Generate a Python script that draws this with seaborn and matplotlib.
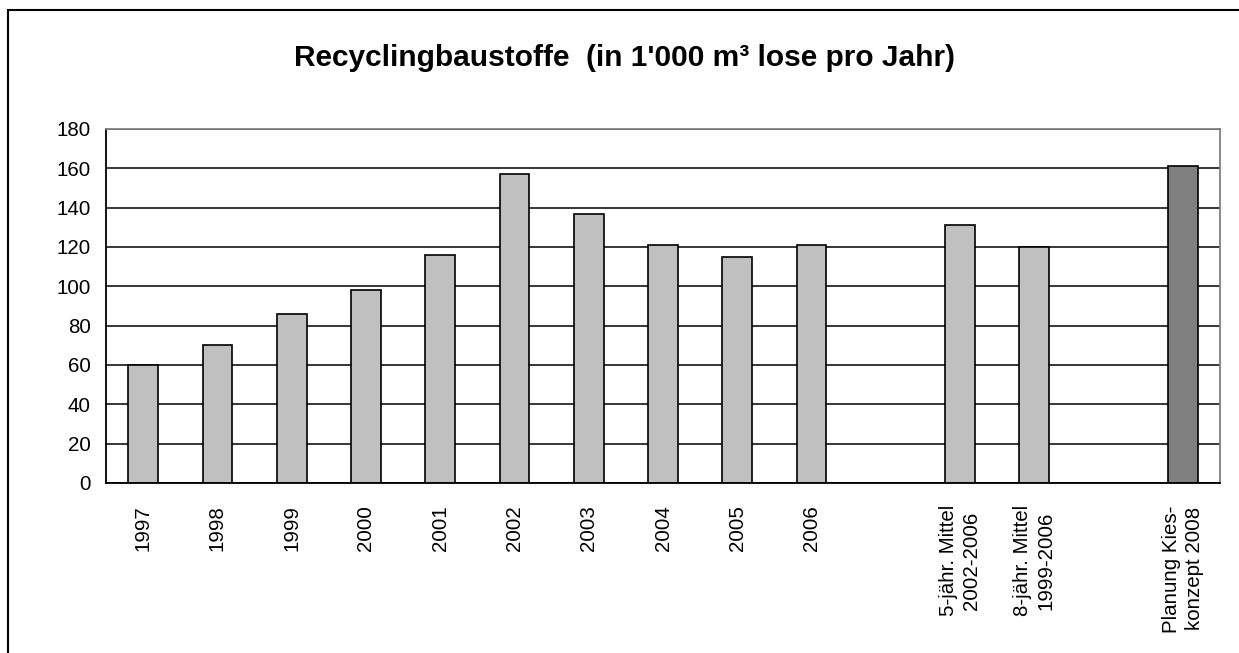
import numpy as np
import pandas as pd
import seaborn as sns
import matplotlib.pyplot as plt
from matplotlib.patches import Rectangle
from matplotlib.ticker import FixedLocator

# Kategorien (leere Plätze als Abstand wie im Original)
categories = ["1997", "1998", "1999", "2000", "2001", "2002", "2003", "2004", "2005", "2006",
              " ", "5-jähr. Mittel\n2002-2006", "8-jähr. Mittel\n1999-2006", "  ",
              "Planung Kies-\nkonzept 2008"]
labels = ["1997", "1998", "1999", "2000", "2001", "2002", "2003", "2004", "2005", "2006",
          "5-jähr. Mittel\n2002-2006", "8-jähr. Mittel\n1999-2006", "Planung Kies-\nkonzept 2008"]
values = [60, 70, 86, 98, 116, 157, 137, 121, 115, 121, 131, 120, 161]
colors = ["#C0C0C0"] * 12 + ["#808080"]

df = pd.DataFrame({"kat": labels, "wert": values})
palette = dict(zip(labels, colors))

sns.set_theme(style="white")
plt.rcParams['font.family'] = ['Liberation Sans', 'DejaVu Sans']

fig = plt.figure(figsize=(12.39, 6.53), dpi=100)
ax = fig.add_axes([106 / 1239, 1 - 483 / 653, (1220 - 106) / 1239, (483 - 129) / 653])

sns.barplot(data=df, x="kat", y="wert", hue="kat", order=categories, palette=palette,
            width=0.4, edgecolor="black", linewidth=1.2, saturation=1, legend=False, ax=ax)

ax.set_xlim(-0.5, len(categories) - 0.5)
ax.set_ylim(0, 180)
ax.set_yticks(np.arange(0, 181, 20))
ax.yaxis.grid(True, color="black", linewidth=1.1)
ax.set_axisbelow(True)
ax.set_xlabel("")
ax.set_ylabel("")

# Tick-Striche zwischen den Kategorien
ax.xaxis.set_minor_locator(FixedLocator(np.arange(-0.5, len(categories), 1.0)))
ax.tick_params(axis="x", which="major", length=0, pad=16)
ax.tick_params(axis="x", which="minor", length=5, width=1.1, color="black", direction="out")
ax.tick_params(axis="y", length=7, width=1.1, color="black", direction="out", pad=4)
ax.tick_params(axis="both", labelsize=14.8, labelcolor="black")
plt.setp(ax.get_xticklabels(), rotation=90, va="top", ha="center",
         multialignment="center", linespacing=1.3)

for s in ["left", "bottom"]:
    ax.spines[s].set_color("black")
    ax.spines[s].set_linewidth(1.3)
for s in ["top", "right"]:
    ax.spines[s].set_color("#808080")
    ax.spines[s].set_linewidth(1.3)

fig.text(0.504, 1 - 58 / 653, "Recyclingbaustoffe  (in 1'000 m³ lose pro Jahr)",
         ha="center", va="center", fontsize=21.5, fontweight="bold", color="black")

# Rahmen um die Grafik
fig.add_artist(Rectangle((8 / 1239, -1), 2, 1 - 10 / 653 + 1, transform=fig.transFigure,
                         fill=False, edgecolor="black", linewidth=1.5))

fig.savefig("out.png", dpi=100)
